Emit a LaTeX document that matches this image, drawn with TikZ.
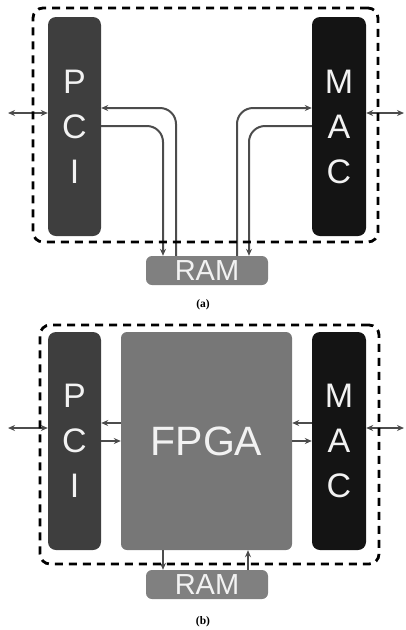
\documentclass[tikz,border=0pt]{standalone}
\usepackage{fontspec}
\setmainfont{Liberation Sans}
\newfontfamily\capfont{Liberation Serif}
\usetikzlibrary{arrows.meta}
\definecolor{pcigray}{HTML}{3E3E3E}
\definecolor{macgray}{HTML}{141414}
\definecolor{ramgray}{HTML}{808080}
\definecolor{fpgagray}{HTML}{777777}
\definecolor{conngray}{HTML}{4C4C4C}
\definecolor{lettercol}{HTML}{F2F2F2}
\tikzset{
  x=1pt, y=-1pt,
  chip/.style={rounded corners=8pt, inner sep=0pt, text=lettercol, align=center,
    font=\fontsize{34}{45}\selectfont},
  rambox/.style={rounded corners=6pt, fill=ramgray, inner sep=0pt, text=lettercol,
    minimum width=122pt, minimum height=29pt, font=\fontsize{29}{30}\selectfont},
  dashbox/.style={draw=black, line width=2.8pt, dash pattern=on 8pt off 6pt,
    rounded corners=10pt, inner sep=0pt},
  conn/.style={draw=conngray, line width=2pt, rounded corners=16pt,
    arrows={-Stealth[length=7pt,width=6pt]}},
  conn2/.style={draw=conngray, line width=2pt,
    arrows={Stealth[length=7pt,width=6pt]-Stealth[length=7pt,width=6pt]}},
  capt/.style={font=\capfont\bfseries\fontsize{11.5}{13}\selectfont}
}
\begin{document}
\begin{tikzpicture}
\useasboundingbox (0,0) rectangle (406,630);
% ---------- panel (a) ----------
\node[chip, fill=pcigray, minimum width=53pt, minimum height=219pt] (pcia) at (74.5,126.5) {P\\C\\I};
\node[chip, fill=macgray, minimum width=54pt, minimum height=219pt] (maca) at (339,126.5) {M\\A\\C};
\node[rambox] (rama) at (207,270.5) {RAM};
\draw[conn] (176,0 |- rama.north) -- (176,108) -- (pcia.east |- 0,108);
\draw[conn] (pcia.east |- 0,126) -- (163,126) -- (163,0 |- rama.north);
\draw[conn] (237,0 |- rama.north) -- (237,108) -- (maca.west |- 0,108);
\draw[conn] (maca.west |- 0,126) -- (249,126) -- (249,0 |- rama.north);
\coordinate (la) at (8,113);
\coordinate (ra) at (404,113);
\draw[conn2] (la) -- (pcia.west |- la);
\draw[conn2] (maca.east |- ra) -- (ra);
\node[dashbox, minimum width=345pt, minimum height=234pt] (borda) at (205.5,125) {};
\node[capt] (capa) at (203,305) {(a)};
% ---------- panel (b) ----------
\node[chip, fill=pcigray, minimum width=53pt, minimum height=218pt] (pcib) at (74.5,441) {P\\C\\I};
\node[chip, fill=macgray, minimum width=54pt, minimum height=218pt] (macb) at (339,441) {M\\A\\C};
\node[chip, fill=fpgagray, rounded corners=6pt, minimum width=171pt, minimum height=218pt,
  font=\fontsize{41}{44}\selectfont] (fpga) at (206.5,441) {FPGA};
\node[rambox] (ramb) at (207,584.5) {RAM};
\draw[conn] (fpga.west |- 0,423) -- (pcib.east |- 0,423);
\draw[conn] (pcib.east |- 0,441) -- (fpga.west |- 0,441);
\draw[conn] (macb.west |- 0,423) -- (fpga.east |- 0,423);
\draw[conn] (fpga.east |- 0,441) -- (macb.west |- 0,441);
\draw[conn] (163,0 |- fpga.south) -- (163,0 |- ramb.north);
\draw[conn] (248,0 |- ramb.north) -- (248,0 |- fpga.south);
\coordinate (lb) at (8,428);
\coordinate (rb) at (404,428);
\draw[conn2] (lb) -- (pcib.west |- lb);
\draw[conn2] (macb.east |- rb) -- (rb);
\node[dashbox, minimum width=339pt, minimum height=239pt] (bordb) at (209.5,444.5) {};
\node[capt] (capb) at (203,622) {(b)};
\end{tikzpicture}
\end{document}
